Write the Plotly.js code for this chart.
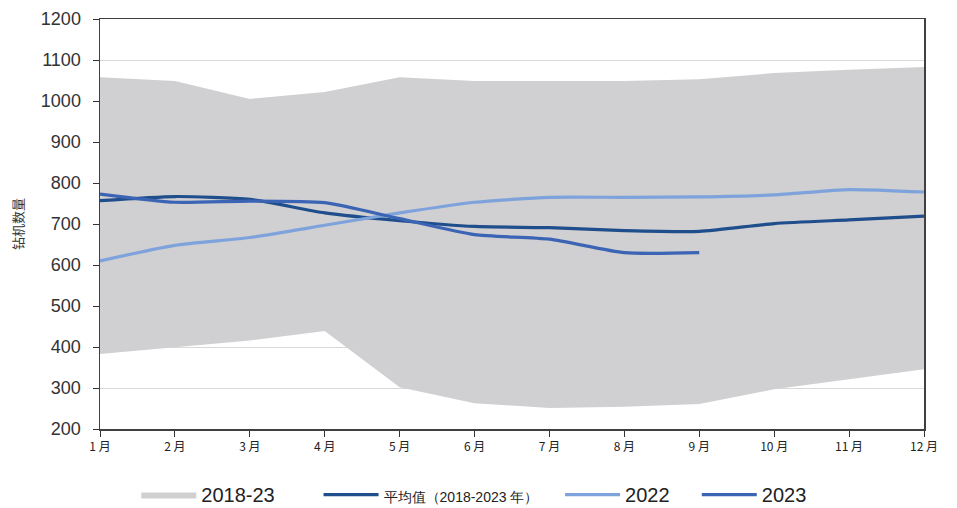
<!DOCTYPE html>
<html>
<head>
<meta charset="utf-8">
<script src="https://cdn.plot.ly/plotly-3.0.1.min.js"></script>
<style>body{margin:0;background:#fff}#chart{width:957px;height:508px}</style>
</head>
<body>
<div id="chart"></div>
<script>
const months = [1,2,3,4,5,6,7,8,9,10,11,12];
const monthLabels = ['1 月','2 月','3 月','4 月','5 月','6 月','7 月','8 月','9 月','10 月','11 月','12 月'];
const bandLow  = [383, 399, 416, 439, 302, 263, 251, 254, 261, 297, 321, 346];
const bandHigh = [1058, 1049, 1005, 1022, 1058, 1049, 1049, 1049, 1053, 1068, 1076, 1083];
const avg2018_2023 = [757, 767, 760, 727, 708, 694, 691, 684, 682, 701, 710, 719];
const y2022 = [610, 648, 667, 697, 727, 753, 765, 765, 766, 771, 784, 778];
const y2023 = [773, 753, 756, 752, 713, 674, 663, 630, 630];

const pad = n => '\u00a0'.repeat(n);

const traces = [
  {x: months, y: bandLow, type:'scatter', mode:'lines', line:{width:0, color:'rgba(0,0,0,0)'}, showlegend:false, hoverinfo:'skip'},
  {x: months, y: bandHigh, type:'scatter', mode:'lines', fill:'tonexty', fillcolor:'#d0cfd1', line:{width:0, color:'#d0cfd1'}, name:'2018-23' + pad(7)},
  {x: months, y: avg2018_2023, type:'scatter', mode:'lines', line:{color:'#1f4e8c', width:3.2, shape:'spline', smoothing:0.6}, name:'<span style="font-size:14px">平均值（2018-2023 年）</span>' + pad(3)},
  {x: months, y: y2022, type:'scatter', mode:'lines', line:{color:'#7ea3dc', width:3.2, shape:'spline', smoothing:0.6}, name:'2022' + pad(4)},
  {x: months.slice(0, y2023.length), y: y2023, type:'scatter', mode:'lines', line:{color:'#3b64b4', width:3.2, shape:'spline', smoothing:0.6}, name:'2023'}
];

const layout = {
  width:957, height:508,
  margin:{l:100, r:33, t:19, b:79, autoexpand:false},
  paper_bgcolor:'#fff', plot_bgcolor:'#fff',
  font:{family:'Liberation Sans, Arial, sans-serif', color:'#262626'},
  xaxis:{
    range:[1,12], tickmode:'array', tickvals:months, ticktext:monthLabels,
    ticks:'outside', ticklen:6, tickcolor:'#333', showgrid:false, zeroline:false,
    showline:true, linecolor:'#404040', linewidth:1.5, mirror:true,
    tickfont:{family:'Noto Sans CJK SC, sans-serif', size:12, color:'#222'}
  },
  yaxis:{
    range:[200,1200], dtick:100, ticks:'outside', ticklen:6, tickcolor:'#333',
    showgrid:true, gridcolor:'#d9d9d9', gridwidth:1, zeroline:false,
    showline:true, linecolor:'#404040', linewidth:1.5, mirror:true,
    ticklabelstandoff:8,
    tickfont:{size:18, color:'#333'},
    title:{text:'钻机数量', font:{family:'Noto Sans CJK SC, sans-serif', size:13, color:'#333'}, standoff:14}
  },
  legend:{orientation:'h', x:0.044, xanchor:'left', y:-0.16, yanchor:'middle',
    font:{size:20, color:'#222'}, itemwidth:55, traceorder:'normal'},
  showlegend:true
};

Plotly.newPlot('chart', traces, layout, {displayModeBar:false, staticPlot:true});
</script>
</body>
</html>
